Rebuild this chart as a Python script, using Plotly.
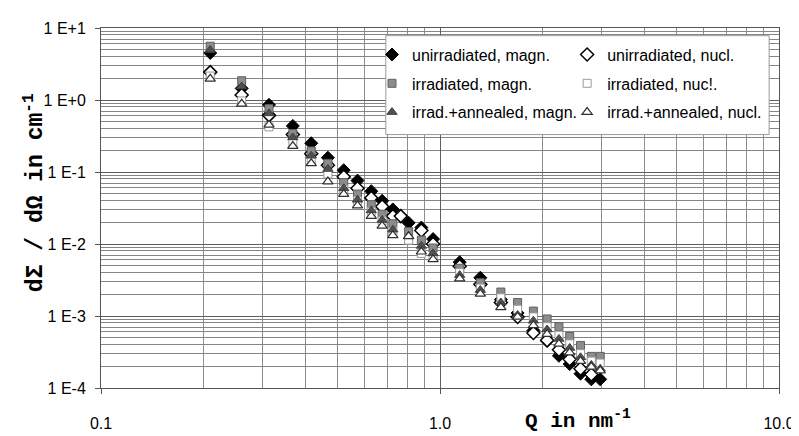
import plotly.graph_objects as go

# Q in nm^-1
q = [0.21, 0.26, 0.313, 0.368, 0.417, 0.467, 0.52, 0.571, 0.627, 0.675, 0.726, 0.766, 0.808,
     0.881, 0.954, 1.143, 1.315, 1.512, 1.694, 1.886, 2.07, 2.243, 2.413, 2.597, 2.795, 2.969]

unirr_magn = [4.50, 1.45, 0.857, 0.437, 0.251, 0.158, 0.106, 0.0759, 0.0541, 0.0398, 0.0302, None, 0.0197,
              0.0169, 0.0117, 0.0056, 0.0034, 0.00169, 0.00110, 0.00063, 0.00045, 0.00028, 0.000215,
              0.000158, 0.000132, 0.000132]
unirr_nucl = [2.44, 1.17, 0.612, 0.331, 0.179, 0.124, 0.0858, 0.0593, 0.0437, 0.0331, 0.0244, 0.0244, None,
              0.0154, 0.0100, 0.0049, 0.00275, 0.00154, 0.00097, 0.00058, 0.00046, 0.00034, 0.000251,
              0.000185, 0.000154, 0.000083]
irr_magn = [5.58, 1.85, 0.759, 0.341, 0.196, 0.132, 0.0714, 0.0494, 0.0352, 0.0259, 0.0191, None, 0.0149,
            0.0113, 0.0088, 0.0046, 0.0029, 0.00215, 0.00154, 0.00117, 0.00091, 0.00071, 0.00052,
            0.00039, 0.000275, 0.000275]
irr_nucl = [2.15, 0.97, 0.423, 0.251, 0.140, 0.094, 0.0575, 0.0398, 0.0284, 0.0209, 0.0149, None, 0.0113,
            0.0074, 0.0065, 0.0040, 0.00244, 0.00179, 0.00124, 0.00097, 0.00071, 0.00054, 0.00041,
            0.00030, 0.000236, 0.000222]
ann_magn = [4.94, 1.54, 0.651, 0.302, 0.168, 0.110, 0.0593, 0.0411, 0.0293, 0.0215, 0.0158, None, 0.0128,
            0.0094, 0.0074, 0.0037, 0.00229, 0.00154, 0.00103, 0.00086, 0.00065, 0.00048, 0.00036,
            0.000267, 0.000209, 0.000185]
ann_nucl = [1.97, 0.885, 0.450, 0.229, 0.132, 0.0736, 0.0494, 0.0341, 0.0244, 0.0179, 0.0132, None, 0.0128,
            0.0078, 0.0061, 0.0033, 0.00203, 0.00132, 0.00097, 0.00074, 0.00056, 0.00041, 0.00031,
            0.000236, 0.000197, 0.000174]

y_tickvals = [1e-4, 1e-3, 1e-2, 1e-1, 1e0, 1e1]
y_ticktext = ["1 E-4", "1 E-3", "1 E-2", "1 E-1", "1 E+0", "1 E+1"]
x_tickvals = [0.1, 1.0, 10.0]
x_ticktext = ["0.1", "1.0", "10.0"]

series = [
    ("unirradiated, magn.", unirr_magn, dict(symbol="diamond", size=10, color="black",
                                             line=dict(color="black", width=1)), "legend", False),
    ("unirradiated, nucl.", unirr_nucl, dict(symbol="diamond", size=10, color="white",
                                             line=dict(color="black", width=1.5)), "legend2", True),
    ("irradiated, magn.", irr_magn, dict(symbol="square", size=8, color="#8c8c8c",
                                         line=dict(color="#606060", width=1)), "legend", False),
    ("irradiated, nuc!.", irr_nucl, dict(symbol="square", size=8, color="white",
                                         line=dict(color="#9a9a9a", width=1)), "legend2", False),
    ("irrad.+annealed, magn.", ann_magn, dict(symbol="triangle-up", size=9, color="#505050",
                                              line=dict(color="#404040", width=1)), "legend", False),
    ("irrad.+annealed, nucl.", ann_nucl, dict(symbol="triangle-up", size=9, color="white",
                                              line=dict(color="#303030", width=1.2)), "legend2", False),
]

fig = go.Figure()
for i, (name, vals, marker, leg, noclip) in enumerate(series):
    fig.add_trace(go.Scatter(x=q, y=vals, mode="markers", name=name, marker=marker,
                             legend=leg, legendgroup=f"g{i}", cliponaxis=not noclip))

W, H = 799, 436
L, R, T, B = 93, 18, 17, 44
pw, ph = W - L - R, H - T - B

def px(xp):
    return (xp - L) / pw

def py(yp):
    return (H - B - yp) / ph

font = "Liberation Sans, Arial, sans-serif"
mono = "Liberation Mono, Courier New, monospace"
fig.update_layout(
    width=W, height=H,
    margin=dict(l=L, r=R, t=T, b=B),
    paper_bgcolor="white", plot_bgcolor="white",
    font=dict(family=font, size=16, color="black"),
    showlegend=True,
    legend=dict(x=px(368), y=py(27), xanchor="left", yanchor="top", bgcolor="rgba(0,0,0,0)",
                borderwidth=0, tracegroupgap=5, traceorder="grouped",
                font=dict(family=font, size=16), itemsizing="trace"),
    legend2=dict(x=px(566), y=py(27), xanchor="left", yanchor="top", bgcolor="rgba(0,0,0,0)",
                 borderwidth=0, tracegroupgap=5, traceorder="grouped",
                 font=dict(family=font, size=16), itemsizing="trace"),
    xaxis=dict(type="log", range=[-1, 1], tickvals=x_tickvals, ticktext=x_ticktext,
               showgrid=True, gridcolor="#5e5e5e", gridwidth=1,
               minor=dict(dtick="D1", showgrid=True, gridcolor="#8e8e8e", ticks=""),
               ticks="outside", ticklen=5, tickcolor="#555",
               showline=True, linecolor="#555", mirror=True, zeroline=False,
               ticklabelstandoff=16, tickfont=dict(size=16)),
    yaxis=dict(type="log", range=[-4, 1], tickvals=y_tickvals, ticktext=y_ticktext,
               showgrid=True, gridcolor="#5e5e5e", gridwidth=1,
               minor=dict(dtick="D1", showgrid=True, gridcolor="#858585", ticks=""),
               ticks="outside", ticklen=5, tickcolor="#555",
               showline=True, linecolor="#555", mirror=True, zeroline=False,
               ticklabelstandoff=6, tickfont=dict(size=16)),
    shapes=[dict(type="rect", xref="paper", yref="paper", x0=px(382), x1=px(771), y0=py(128), y1=py(25),
                 fillcolor="white", line=dict(color="#9a9a9a", width=1), layer="above")],
    annotations=[
        dict(text="<b>Q in nm<sup>-1</sup></b>", xref="paper", yref="paper", x=px(577), y=py(425),
             xanchor="center", yanchor="middle", showarrow=False,
             font=dict(family=mono, size=21)),
        dict(text="<b>dΣ / dΩ in cm<sup>-1</sup></b>", xref="paper", yref="paper", x=px(26), y=py(188),
             xanchor="center", yanchor="middle", showarrow=False, textangle=-90,
             font=dict(family=mono, size=23)),
    ],
)

fig.write_html("out.html")
